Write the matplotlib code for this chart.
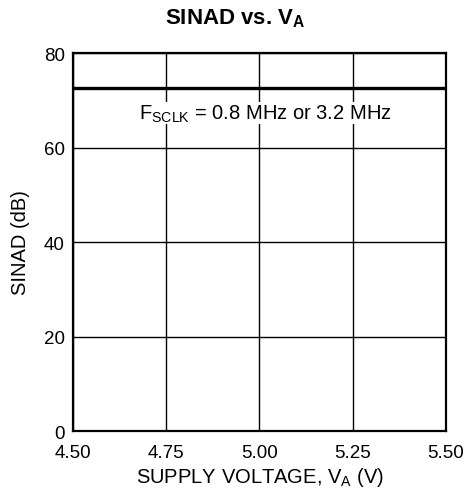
import matplotlib.pyplot as plt

plt.rcParams['font.family'] = ['Liberation Sans', 'DejaVu Sans']

volts = [4.50, 4.75, 5.00, 5.25, 5.50]
sinad = [72.6, 72.6, 72.6, 72.6, 72.6]
x_ticks = [4.50, 4.75, 5.00, 5.25, 5.50]
x_labels = ['4.50', '4.75', '5.00', '5.25', '5.50']
y_ticks = [0, 20, 40, 60, 80]

fig = plt.figure(figsize=(4.67, 5.02), dpi=100)
ax = fig.add_axes([0.1563, 0.1394, 0.7987, 0.753])

ax.plot(volts, sinad, color='black', linewidth=2.4)

ax.set_xlim(4.5, 5.5)
ax.set_ylim(0, 80)
ax.set_xticks(x_ticks)
ax.set_xticklabels(x_labels)
ax.set_yticks(y_ticks)
ax.tick_params(length=0, labelsize=13.5)
ax.tick_params(axis='x', pad=9)
ax.tick_params(axis='y', pad=6)
ax.grid(True, color='black', linewidth=1)
for s in ax.spines.values():
    s.set_linewidth(1.6)

ax.set_xlabel('SUPPLY VOLTAGE, V$_\\mathregular{A}$ (V)', fontsize=14.5, labelpad=3)
ax.set_ylabel('SINAD (dB)', fontsize=14.5, labelpad=10)
fig.text(235 / 467, 1 - 19 / 502, 'SINAD vs. V$_\\mathregular{A}$', fontsize=16,
         fontweight='bold', ha='center', va='center')

ax.text(5.015, 66.2, 'F$_\\mathregular{SCLK}$ = 0.8 MHz or 3.2 MHz', fontsize=14.5,
        ha='center', va='baseline',
        bbox=dict(facecolor='white', edgecolor='none', pad=0.5))

fig.savefig('out.png', dpi=100)
